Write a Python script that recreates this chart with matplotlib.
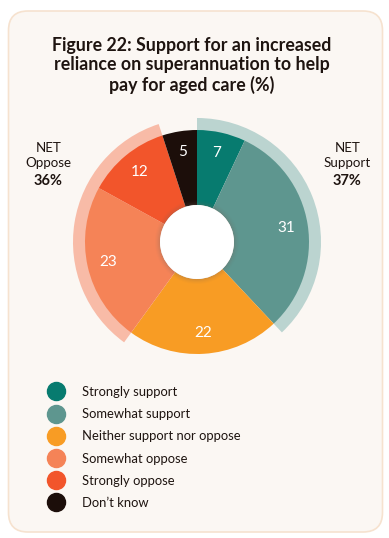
import matplotlib
matplotlib.use("Agg")
import matplotlib.pyplot as plt
from matplotlib.patches import FancyBboxPatch, Circle
from matplotlib.lines import Line2D

plt.rcParams['font.family'] = ['Lato', 'DejaVu Sans']

categories = ["Strongly support", "Somewhat support", "Neither support nor oppose",
              "Somewhat oppose", "Strongly oppose", "Don\u2019t know"]
values = [7, 31, 22, 23, 12, 5]
colors = ["#077B6F", "#5E968F", "#F89C24", "#F58357", "#F2552B", "#1C0E0A"]
net_support = 37
net_oppose = 36
title = "Figure 22: Support for an increased\nreliance on superannuation to help\npay for aged care (%)"

W, H = 389, 538
fig = plt.figure(figsize=(W / 100, H / 100), dpi=100)
fig.patch.set_facecolor("white")

# card background
card = FancyBboxPatch((8.5 / W, 6 / H), 374 / W, 521 / H,
                      boxstyle="round,pad=0,rounding_size=0.05",
                      transform=fig.transFigure, facecolor="#FBF7F3",
                      edgecolor="#F6E2CF", linewidth=1.2, mutation_aspect=W / H,
                      zorder=-5)
fig.patches.append(card)

fig.text(192 / W, 1 - 65.5 / H, title, ha="center", va="center", fontsize=12.8,
         fontweight="bold", color="#1E1410", linespacing=1.2)

# pie axes centred at (197, 242) px
cx, cy, half = 197, 242, 130
ax = fig.add_axes([(cx - half) / W, (H - cy - half) / H, 2 * half / W, 2 * half / H])
ax.set_zorder(1)

R = 112
# NET rings behind the pie
sup = values[0] + values[1]
opp = values[3] + values[4]
ax.pie([sup, 100 - sup], colors=["#BBD4D0", "none"], radius=R + 12, startangle=90,
       counterclock=False, wedgeprops=dict(width=13, linewidth=0))
ax.pie([sup + values[2], opp, values[5]], colors=["none", "#F8BBA7", "none"],
       radius=R + 12, startangle=90, counterclock=False,
       wedgeprops=dict(width=13, linewidth=0))

wedges, texts = ax.pie(values, colors=colors, radius=R, startangle=90,
                       counterclock=False, labels=[str(v) for v in values],
                       labeldistance=0.81, wedgeprops=dict(width=R - 37, linewidth=0))
for t in texts:
    t.set_color("white")
    t.set_fontsize(11)
    t.set_ha("center")
    t.set_va("center")

# hole with soft shadow
for r, a in [(42, 0.03), (41, 0.04), (40, 0.05), (39, 0.07), (38, 0.09)]:
    ax.add_patch(Circle((0, 0), r, facecolor="#7A6A60", alpha=a, linewidth=0))
ax.add_patch(Circle((0, 0), 37, facecolor="white", linewidth=0))

ax.set_xlim(-half, half)
ax.set_ylim(-half, half)
ax.set_aspect("equal")
ax.axis("off")

fig.text(48.5 / W, 1 - 155.5 / H, "NET\nOppose", ha="center", va="center",
         fontsize=9.6, color="#1E1410", linespacing=1.28)
fig.text(48.5 / W, 1 - 181 / H, f"{net_oppose}%", ha="center", va="center",
         fontsize=10.5, fontweight="bold", color="#1E1410")
fig.text(347.5 / W, 1 - 155.5 / H, "NET\nSupport", ha="center", va="center",
         fontsize=9.6, color="#1E1410", linespacing=1.28)
fig.text(347.5 / W, 1 - 181 / H, f"{net_support}%", ha="center", va="center",
         fontsize=10.5, fontweight="bold", color="#1E1410")

handles = [Line2D([], [], marker="o", linestyle="None", markersize=13,
                  markerfacecolor=c, markeredgecolor=c) for c in colors]
fig.legend(handles, categories, loc="upper left",
           bbox_to_anchor=(48 / W, 1 - 386 / H), frameon=False, fontsize=9.4,
           labelspacing=0.78, handletextpad=1.4, handlelength=1.2,
           labelcolor="#1E1410", borderpad=0, borderaxespad=0)

fig.savefig("out.png", dpi=100)
